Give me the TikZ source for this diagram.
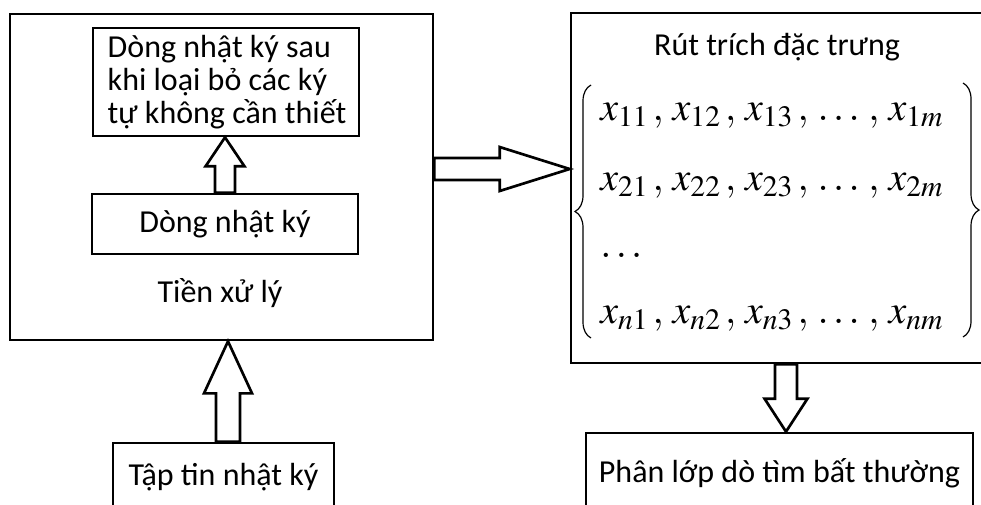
\documentclass[tikz,border=0pt]{standalone}
\usepackage{mathptmx}
\usepackage[no-math]{fontspec}
\setmainfont{Carlito}
\usetikzlibrary{calc,fit,decorations.pathreplacing}
\tikzset{
  box/.style={draw,line width=2pt,inner sep=0pt},
  blk/.style={draw,line width=2pt,fill=white,line join=miter},
  txt/.style={font=\fontsize{24}{24.75}\selectfont,inner sep=0pt},
  mth/.style={font=\fontsize{30}{36}\selectfont,inner sep=0pt,anchor=base west},
  brc/.style={decorate,decoration={brace,amplitude=12pt},line width=0.9pt}
}
% hollow block arrows: start, tip, half shaft, half head, head length
\newcommand{\vblock}[5]{%
  \draw[blk] let \p1=(#1), \p2=(#2), \p3=($(#2)!#5!(#1)$) in
    (\x1-#3,\y1) -- (\x1-#3,\y3) -- (\x1-#4,\y3) -- (\x1,\y2)
    -- (\x1+#4,\y3) -- (\x1+#3,\y3) -- (\x1+#3,\y1) -- cycle;}
\newcommand{\hblock}[5]{%
  \draw[blk] let \p1=(#1), \p2=(#2), \p3=($(#2)!#5!(#1)$) in
    (\x1,\y1-#3) -- (\x3,\y1-#3) -- (\x3,\y1-#4) -- (\x2,\y1)
    -- (\x3,\y1+#4) -- (\x3,\y1+#3) -- (\x1,\y1+#3) -- cycle;}
\newcommand{\cm}{\,,\,}
\begin{document}
\begin{tikzpicture}[x=0.75pt,y=-0.75pt]
\useasboundingbox (0,0) rectangle (981,504);
% preprocessing
\node[box,fit={(10,14) (433,340)}] (pre) {};
\node[box,fit={(93,28) (359,136)}] (clean) {};
\node[txt,align=left] (cleantxt) at (227,82)
  {Dòng nhật ký sau\\khi loại bỏ các ký\\tự không cần thiết};
\node[box,fit={(92,194) (358,254)}] (log) {};
\node[txt] (logtxt) at (log) {Dòng nhật ký};
\node[txt] (prelbl) at (220,293) {Tiền xử lý};
% feature extraction
\node[box,fit={(571,13) (992,363)}] (feat) {};
\node[txt] (feattl) at (777,47) {Rút trích đặc trưng};
\node[mth] (r1) at (600,120) {$x_{11}\cm x_{12}\cm x_{13}\cm \ldots\cm x_{1m}$};
\node[mth] (r2) at (600,190) {$x_{21}\cm x_{22}\cm x_{23}\cm \ldots\cm x_{2m}$};
\node[mth] (r3) at (600,257) {$\ldots$};
\node[mth] (r4) at (600,323) {$x_{n1}\cm x_{n2}\cm x_{n3}\cm \ldots\cm x_{nm}$};
\draw[brc] (591,338) -- (591,85);
\draw[brc] (963,83) -- (963,337);
% input / output
\node[box,fit={(113,443) (334,520)}] (src) {};
\node[txt] (srclbl) at (src.north |- 0,477) {Tập tin nhật ký};
\node[box,fit={(586,433) (973,520)}] (out) {};
\node[txt] (outlbl) at (out.north |- 0,473) {Phân lớp dò tìm bất thường};
% arrows
\vblock{log.north}{clean.south}{7.5pt}{14.6pt}{21.75pt}
\coordinate (s2) at ($(src.north)+(4.5,0)$);
\vblock{s2}{s2 |- pre.south}{9pt}{18pt}{39pt}
\coordinate (s3) at ($(pre.east)+(0,-8)$);
\hblock{s3}{s3 -| feat.west}{8.25pt}{16.5pt}{52.5pt}
\coordinate (s4) at ($(feat.south -| out.north)+(6.5,0)$);
\vblock{s4}{s4 |- out.north}{8.25pt}{16.1pt}{24.75pt}
\end{tikzpicture}
\end{document}
